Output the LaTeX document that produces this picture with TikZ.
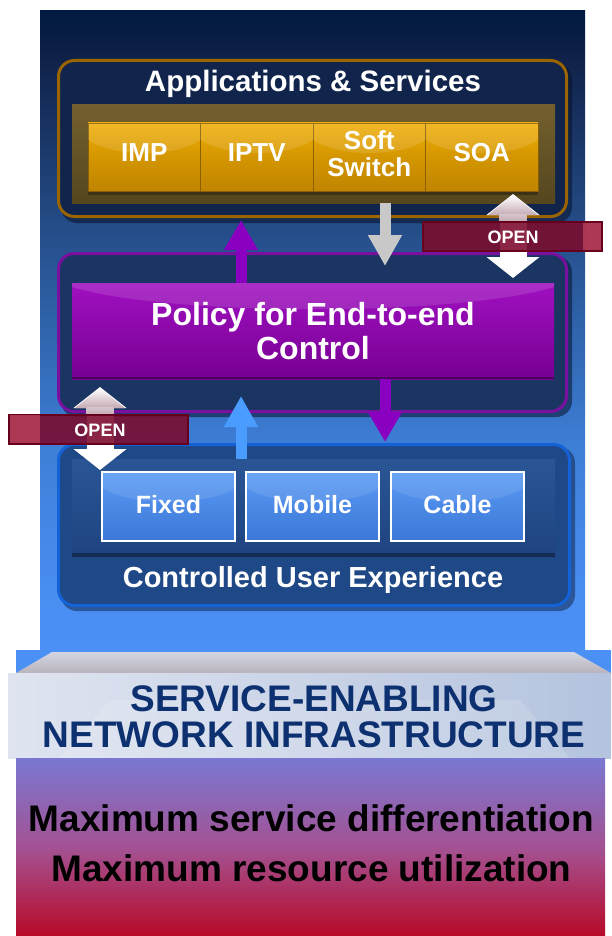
\documentclass[tikz,border=0pt]{standalone}
\usepackage{fontspec}
\setmainfont{Liberation Sans}
\usetikzlibrary{arrows.meta}
\definecolor{tpA}{HTML}{4A90F5}
\definecolor{tpB}{HTML}{4A8EF2}
\definecolor{tpC}{HTML}{3E7FD8}
\definecolor{tpD}{HTML}{26508C}
\definecolor{tpE}{HTML}{10224A}
\definecolor{tpF}{HTML}{0A1D45}
\definecolor{tpG}{HTML}{001A40}
\definecolor{bgA}{HTML}{7A78D2}
\definecolor{bgB}{HTML}{A45090}
\definecolor{bgC}{HTML}{B80A28}
\definecolor{slabA}{HTML}{D2D6E2}
\definecolor{slabB}{HTML}{B9B3BC}
\definecolor{faceA}{HTML}{DFE4F0}
\definecolor{faceB}{HTML}{B4C3DE}
\definecolor{netText}{HTML}{0C3070}
\definecolor{appsB}{HTML}{9A6400}
\definecolor{appsF}{HTML}{10244C}
\definecolor{bandA}{HTML}{74602E}
\definecolor{bandB}{HTML}{55461E}
\definecolor{obA}{HTML}{F0AE08}
\definecolor{obM}{HTML}{D49600}
\definecolor{obB}{HTML}{C08400}
\definecolor{obE}{HTML}{8A6000}
\definecolor{polB}{HTML}{7A10A0}
\definecolor{polF}{HTML}{1A3562}
\definecolor{purA}{HTML}{A010C0}
\definecolor{purB}{HTML}{760092}
\definecolor{usrB}{HTML}{1462D8}
\definecolor{usrF}{HTML}{1F4886}
\definecolor{ubandA}{HTML}{2A5595}
\definecolor{ubandB}{HTML}{1E4480}
\definecolor{ubA}{HTML}{5A9AF4}
\definecolor{ubB}{HTML}{3C78D8}
\definecolor{grayArr}{HTML}{C8C8C8}
\definecolor{purArr}{HTML}{8A00C0}
\definecolor{bluArr}{HTML}{4A9CFF}
\definecolor{openF}{HTML}{7C0A2C}
\definecolor{openD}{HTML}{66001C}
\definecolor{openL}{HTML}{B03A55}
\definecolor{shadowC}{HTML}{06122A}
\definecolor{headPink}{HTML}{C4AAB4}
\pgfdeclareverticalshading{toppanel}{100bp}{color(0bp)=(tpA); color(25bp)=(tpA); color(29bp)=(tpB); color(40.7bp)=(tpC); color(57.1bp)=(tpD); color(71.2bp)=(tpE); color(72.7bp)=(tpF); color(75bp)=(tpG); color(100bp)=(tpG)}
\pgfdeclareverticalshading{botgrad}{100bp}{color(0bp)=(bgC); color(25bp)=(bgC); color(49bp)=(bgB); color(75bp)=(bgA); color(100bp)=(bgA)}
\tikzset{
  fs/.style={font=\fontsize{#1}{#1}\selectfont\bfseries},
  box/.style={inner sep=0pt, outer sep=0pt, rectangle},
  panelbox/.style={box, rounded corners=16pt, line width=3pt},
  obtn/.style={box, minimum width=112.5pt, minimum height=68pt, top color=obA, bottom color=obB, middle color=obM, draw=obE, line width=0.8pt},
  ubtn/.style={box, minimum width=133pt, minimum height=69pt, top color=ubA, bottom color=ubB, draw=white, line width=2pt},
  wlabel/.style={text=white, anchor=base, inner sep=0pt},
  grayarrow/.style={draw=grayArr, line width=11pt, -{Triangle[width=32pt,length=31pt]}},
  purparrow/.style={draw=purArr, line width=11pt, -{Triangle[width=32pt,length=30pt]}},
  bluearrow/.style={draw=bluArr, line width=11pt, -{Triangle[width=32pt,length=31pt]}},
  openarrow/.style={draw=white, line width=27pt, {Triangle[width=52pt,length=21pt]}-{Triangle[width=52pt,length=21pt]}},
  openbox/.style={box, minimum width=179pt, minimum height=29pt, fill=openF, fill opacity=0.88, draw=openD, line width=2pt},
  gloss/.style={fill=white, fill opacity=#1},
}
\newcommand{\glossbtn}[2]{%
  \begin{scope}
    \clip (#1.north west) rectangle (#1.south east);
    \fill[gloss=#2] ([xshift=-10pt]#1.north west) .. controls ([xshift=-10pt,yshift=-40pt]#1.north west) and ([xshift=10pt,yshift=-40pt]#1.north east) .. ([xshift=10pt]#1.north east) -- cycle;
  \end{scope}}
\begin{document}
\begin{tikzpicture}[x=1pt,y=-1pt]
\useasboundingbox (0,0) rectangle (611,936);
\fill[white] (0,0) rectangle (611,936);
% background panel
\shade[shading=toppanel] (40,11) rectangle (585,652);
\fill[tpA] (16,650) rectangle (611,676);
% slab
\shade[top color=slabA, bottom color=slabB] (52,652) -- (574,652) -- (611,673) -- (16,673) -- cycle;
\shade[left color=faceA, right color=faceB] (8,673) rectangle (611,758);
\fill[white, opacity=0.15] (60,758) -- (110,700) -- (520,700) -- (570,758) -- cycle;
\shade[shading=botgrad] (16,758) rectangle (605,936);
\node[inner sep=0pt, text=netText, fs=37, anchor=base] (net1) at (314,711) {SERVICE-ENABLING};
\node[inner sep=0pt, text=netText, fs=37, anchor=base] (net2) at (314,747) {NETWORK INFRASTRUCTURE};
\node[inner sep=0pt, text=black, fs=37, anchor=base] (max1) at (311.5,831) {Maximum service differentiation};
\node[inner sep=0pt, text=black, fs=37, anchor=base] (max2) at (311.5,881) {Maximum resource utilization};

% Applications & Services
\fill[shadowC, opacity=0.55, rounded corners=16pt] (61,63) rectangle (572,223);
\node[panelbox, draw=appsB, fill=appsF, minimum width=508pt, minimum height=156pt] (apps) at (312.5,138.5) {};
\node[wlabel, fs=29.5] (appsT) at (313,92) {Applications \& Services};
\node[box, minimum width=483pt, minimum height=98pt, top color=bandA, bottom color=bandB] (band) at (313.5,154) {};
\fill[black, opacity=0.3] (88,191) rectangle (538,195);
\node[obtn] (imp) at (144.25,157) {};
\node[obtn] (iptv) at (256.75,157) {};
\node[obtn] (soft) at (369.25,157) {};
\node[obtn] (soa) at (481.75,157) {};
\glossbtn{imp}{0.12}\glossbtn{iptv}{0.12}\glossbtn{soft}{0.12}\glossbtn{soa}{0.12}
\node[wlabel, fs=26] (impT) at (imp.center |- 0,162) {IMP};
\node[wlabel, fs=26] (iptvT) at (iptv.center |- 0,162) {IPTV};
\node[wlabel, fs=26] (softT) at (soft.center |- 0,150) {Soft};
\node[wlabel, fs=26] (switchT) at (soft.center |- 0,176) {Switch};
\node[wlabel, fs=26] (soaT) at (soa.center |- 0,162) {SOA};

% Policy
\fill[shadowC, opacity=0.55, rounded corners=16pt] (61,256) rectangle (572,417);
\node[panelbox, draw=polB, fill=polF, minimum width=508pt, minimum height=158pt] (policy) at (312.5,332.5) {};
\node[box, minimum width=482pt, minimum height=96pt, top color=purA, bottom color=purB] (bar) at (313,331) {};
\begin{scope}
  \clip (bar.north west) rectangle (bar.south east);
  \fill[gloss=0.12] (60,283) .. controls (150,318) and (476,318) .. (566,283) -- cycle;
\end{scope}
\fill[black, opacity=0.35] (72,377) rectangle (554,379);
\node[wlabel, fs=32] (polT1) at (313,325) {Policy for End-to-end};
\node[wlabel, fs=32] (polT2) at (313,359) {Control};

% Controlled user experience
\fill[shadowC, opacity=0.45, rounded corners=16pt] (61,447) rectangle (575,611);
\node[panelbox, draw=usrB, fill=usrF, minimum width=511pt, minimum height=161pt] (user) at (314,525) {};
\node[box, minimum width=483pt, minimum height=98pt, top color=ubandA, bottom color=ubandB] (uband) at (313.5,508) {};
\fill[black, opacity=0.35] (72,553) rectangle (555,557);
\node[ubtn] (fixed) at (168.5,506.5) {};
\node[ubtn] (mobile) at (312.5,506.5) {};
\node[ubtn] (cable) at (457.5,506.5) {};
\glossbtn{fixed}{0.1}\glossbtn{mobile}{0.1}\glossbtn{cable}{0.1}
\draw[white, line width=2pt] (fixed.north west) rectangle (fixed.south east);
\draw[white, line width=2pt] (mobile.north west) rectangle (mobile.south east);
\draw[white, line width=2pt] (cable.north west) rectangle (cable.south east);
\node[wlabel, fs=25] (fixedT) at (fixed.center |- 0,513) {Fixed};
\node[wlabel, fs=25] (mobileT) at (mobile.center |- 0,513) {Mobile};
\node[wlabel, fs=25] (cableT) at (cable.center |- 0,513) {Cable};
\node[wlabel, fs=29] (userT) at (313,587) {Controlled User Experience};

% connectors
\coordinate (gTip) at (385,266);
\coordinate (puTip) at (241,220);
\coordinate (pdTip) at (385,442);
\coordinate (buTip) at (241,396);
\draw[grayarrow] (band.south -| gTip) -- (gTip);
\draw[purparrow] (bar.north -| puTip) -- (puTip);
\draw[purparrow] (bar.south -| pdTip) -- (pdTip);
\draw[bluearrow] (uband.north -| buTip) -- (buTip);

% OPEN right
\coordinate (o1a) at (513,194);
\coordinate (o1b) at (513,278);
\draw[openarrow] (o1a) -- (o1b);
\shade[top color=white, bottom color=headPink] (513,195) -- (538,215) -- (488,215) -- cycle;
\shade[top color=headPink!70!white, bottom color=headPink] (499.5,214.5) rectangle (526.5,222);
\node[openbox] (open1) at (512.5,236.5) {};
\fill[openL, opacity=0.9] (583,223) rectangle (601,250);
\node[wlabel, fs=18] (open1T) at (513,243) {OPEN};

% OPEN left
\coordinate (o2a) at (100,387);
\coordinate (o2b) at (100,470);
\draw[openarrow] (o2a) -- (o2b);
\shade[top color=white, bottom color=headPink] (100,388) -- (125,408) -- (75,408) -- cycle;
\shade[top color=headPink!70!white, bottom color=headPink] (86.5,407.5) rectangle (113.5,415);
\node[openbox] (open2) at (98.5,429) {};
\fill[openL, opacity=0.9] (10,415) rectangle (40,443);
\node[wlabel, fs=18] (open2T) at (100,436) {OPEN};
\end{tikzpicture}
\end{document}
